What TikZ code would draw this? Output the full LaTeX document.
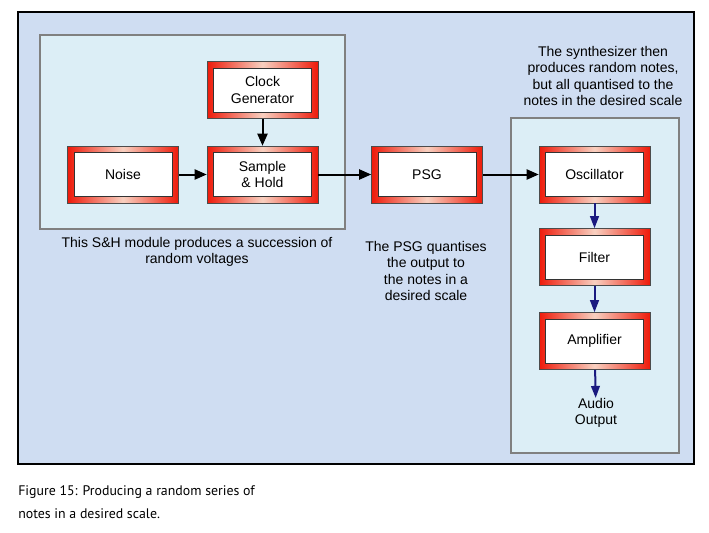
\documentclass[tikz,border=0pt]{standalone}
\usepackage{fontspec}
\setmainfont{Liberation Sans}
\newfontfamily\capfont{PT Sans}
\usetikzlibrary{arrows.meta}
\definecolor{bgblue}{HTML}{CFDDF2}
\definecolor{inblue}{HTML}{DCEEF6}
\definecolor{grpgray}{HTML}{808080}
\definecolor{rred}{HTML}{EE1A0A}
\definecolor{rlight}{HTML}{F8D0C0}
\definecolor{navy}{HTML}{1A1A80}
\begin{document}
\begin{tikzpicture}[x=0.75pt,y=-0.75pt,
  rbox/.style={draw=black!70,line width=0.4pt,minimum width=83.25pt,minimum height=42.75pt,
    left color=rred,right color=rred,middle color=rlight,
    font=\fontsize{10.5}{12.5}\selectfont,align=center,inner sep=0pt,
    path picture={\draw[fill=white,draw=black!80,line width=0.5pt]
      ([shift={(5pt,5pt)}]path picture bounding box.south west) rectangle
      ([shift={(-5pt,-5pt)}]path picture bounding box.north east);}},
  grp/.style={draw=grpgray,line width=1.6pt,fill=inblue},
  lbl/.style={font=\fontsize{10.5}{12.4}\selectfont,align=center,inner sep=0pt},
  blk/.style={line width=1.5pt,-{Triangle[length=9pt,width=7.5pt]}},
  blu/.style={draw=navy,line width=1.5pt,-{Triangle[length=9pt,width=6.5pt]}}
]
\useasboundingbox (0,0) rectangle (709,532);
\fill[white] (0,0) rectangle (709,532);
\draw[fill=bgblue,line width=0.8pt] (18,12) rectangle (694,464);
\draw[grp] (40,35) rectangle (345,229);
\draw[grp] (511,118) rectangle (679,453);

\node[rbox] (clock) at (262.5,90) {Clock\\Generator};
\node[rbox] (noise) at (123,174.5) {Noise};
\node[rbox] (sh) at (262.5,174.5) {Sample\\\& Hold};
\node[rbox] (psg) at (427,174.5) {PSG};
\node[rbox] (osc) at (594.5,174.5) {Oscillator};
\node[rbox] (filt) at (594.5,257) {Filter};
\node[rbox] (amp) at (594.5,341) {Amplifier};
\node[lbl] (audio) at (596,413) {Audio\\Output};

\node[lbl] (lcap) at (197,252) {This S\&H module produces a succession of\\random voltages};
\node[lbl] (pcap) at (426,271) {The PSG quantises\\the output to\\the notes in a\\desired scale};
\node[lbl] (scap) at (603,76) {The synthesizer then\\produces random notes,\\but all quantised to the\\notes in the desired scale};

\draw[blk] (noise) -- (sh);
\draw[blk] (clock) -- (sh);
\draw[blk] (sh) -- (psg);
\draw[blk] (psg) -- (osc);
\draw[blu] (osc) -- (filt);
\draw[blu] (filt) -- (amp);
\draw[blu] (amp) -- (audio);

\node[anchor=north west,align=left,inner sep=0pt,font=\capfont\fontsize{10.4}{17.2}\selectfont] (fig) at (18,485) {Figure 15: Producing a random series of\\notes in a desired scale.};
\end{tikzpicture}
\end{document}
